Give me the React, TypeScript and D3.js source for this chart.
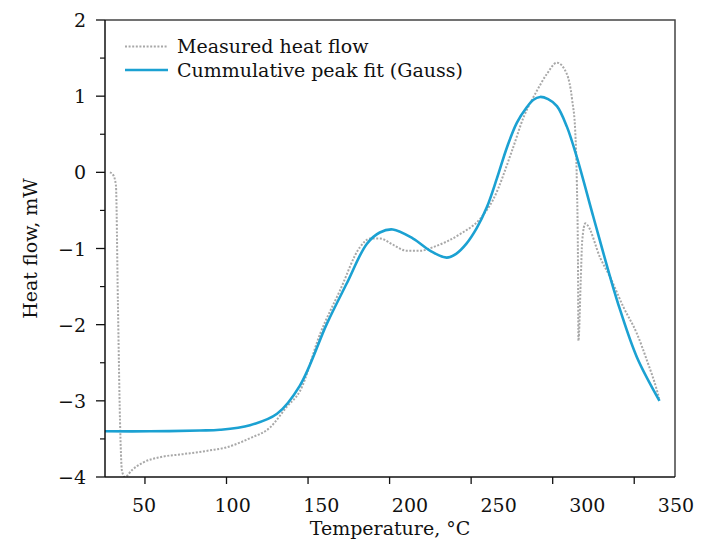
import React, { useEffect } from "react";
import * as d3 from "d3";

// ---- data ----
const xTickValues = [50, 100, 150, 200, 250, 300, 350];
const xTickLabels = ["50", "100", "150", "200", "250", "300", "350"];
const yTickValues = [-4, -3, -2, -1, 0, 1, 2];
const yMinorTicks = [-3.5, -2.5, -1.5, -0.5, 0.5, 1.5];

const measuredT = [28.5, 30.4, 32.2, 33.4, 34.7, 35.9, 37.7, 42, 48.8, 59.2, 73.3, 89.9, 100.1, 114.4, 126.7, 136.9, 145.1, 157.4, 169.6, 181.9, 188, 194.2, 202, 210.6, 218.7, 226.9, 243.3, 255.5, 263.7, 275, 282.1, 290.3, 296.4, 302.6, 308.7, 312, 313.8, 314.8, 315.5, 315.8, 317.2, 318.1, 320, 321.2, 329.1, 335.3, 343.4, 351.7, 357.8, 363.9, 365.3];
const measuredV = [0.0, -0.03, -0.17, -1.69, -3.26, -3.92, -4.0, -3.91, -3.81, -3.74, -3.70, -3.65, -3.61, -3.49, -3.35, -3.08, -2.87, -2.12, -1.55, -0.98, -0.87, -0.87, -0.95, -1.03, -1.03, -0.98, -0.81, -0.61, -0.35, 0.28, 0.72, 1.07, 1.29, 1.44, 1.29, 0.94, 0.55, -0.11, -1.16, -2.21, -1.42, -0.90, -0.67, -0.69, -1.12, -1.38, -1.77, -2.12, -2.47, -2.86, -2.97];

const fitT = [25.5, 53, 83.7, 96, 114.4, 131, 145, 161.5, 173.7, 186, 194, 202, 214.4, 225, 235, 240.8, 247, 253.5, 259.6, 265.8, 272, 278, 284, 288, 292.3, 297.2, 302.6, 308.7, 314.8, 325, 335.3, 341.4, 351.7, 365.5];
const fitV = [-3.40, -3.40, -3.39, -3.38, -3.32, -3.17, -2.80, -1.99, -1.46, -0.94, -0.79, -0.75, -0.87, -1.03, -1.12, -1.07, -0.94, -0.73, -0.46, -0.08, 0.33, 0.65, 0.85, 0.95, 0.99, 0.96, 0.87, 0.60, 0.20, -0.59, -1.38, -1.81, -2.43, -3.00];

const seriesNames = ["Measured heat flow", "Cummulative peak fit (Gauss)"];

const W = 710;
const H = 546;
const left = 105, right = 675, top = 20, bottom = 477;

const FONT = "'DejaVu Serif', 'Liberation Serif', serif";
const BLUE = "#1ba1d2";
const GRAY = "#a8a8a8";

export default function App() {
  useEffect(() => {
    document.body.style.margin = "0";
  }, []);

  const x = d3.scaleLinear().domain([25.5, 375]).range([left, right]);
  const y = d3.scaleLinear().domain([-4, 2]).range([bottom, top]);
  const xLabelPos = d3.scalePoint<string>().domain(xTickLabels).range([144, 676]);

  const measured = measuredT.map((t, i) => [t, measuredV[i]] as [number, number]);
  const fit = fitT.map((t, i) => [t, fitV[i]] as [number, number]);

  const lineM = d3.line<[number, number]>().x(d => x(d[0])).y(d => y(d[1])).curve(d3.curveMonotoneX);
  const lineF = d3.line<[number, number]>().x(d => x(d[0])).y(d => y(d[1])).curve(d3.curveCatmullRom.alpha(0.5));

  const fmt = (v: number) => (v < 0 ? "\u2212" + Math.abs(v) : String(v));

  return (
    <svg width={W} height={H} style={{ display: "block", position: "absolute", left: 0, top: 0, background: "#fff" }} fontFamily={FONT}>
      <defs>
        <clipPath id="plotclip">
          <rect x={left} y={top} width={right - left} height={bottom - top} />
        </clipPath>
      </defs>
      <rect x={0} y={0} width={W} height={H} fill="#fff" />

      {/* frame top/right */}
      <path d={`M${left},${top}H${right}V${bottom}`} fill="none" stroke="#444" strokeWidth={1.5} />

      {/* curves */}
      <g clipPath="url(#plotclip)">
        <path d={lineM(measured) || ""} fill="none" stroke={GRAY} strokeWidth={2} strokeDasharray="2,1.6" />
        <path d={lineF(fit) || ""} fill="none" stroke={BLUE} strokeWidth={2.6} />
      </g>

      {/* axes */}
      <line x1={left} x2={left} y1={top} y2={bottom} stroke="#111" strokeWidth={1.5} />
      <line x1={left} x2={right} y1={bottom} y2={bottom} stroke="#111" strokeWidth={1.5} />

      {yTickValues.map(v => (
        <g key={"y" + v}>
          <line x1={left - 9} x2={left} y1={y(v)} y2={y(v)} stroke="#111" strokeWidth={1.3} />
          <text x={86} y={y(v) + 7} textAnchor="end" fontSize={19} fill="#111">{fmt(v)}</text>
        </g>
      ))}
      {yMinorTicks.map(v => (
        <line key={"ym" + v} x1={left - 5} x2={left} y1={y(v)} y2={y(v)} stroke="#111" strokeWidth={1.2} />
      ))}

      {xTickValues.map((v, i) => (
        <g key={"x" + v}>
          <line x1={x(v)} x2={x(v)} y1={bottom} y2={bottom + 7} stroke="#111" strokeWidth={1.3} />
          <text x={xLabelPos(xTickLabels[i])} y={512} textAnchor="middle" fontSize={19} fill="#111">{xTickLabels[i]}</text>
        </g>
      ))}

      <text x={(left + right) / 2} y={535} textAnchor="middle" fontSize={19} fill="#111">Temperature, °C</text>
      <text transform={`translate(37,${(top + bottom) / 2}) rotate(-90)`} textAnchor="middle" fontSize={19} fill="#111">Heat flow, mW</text>

      {/* legend */}
      <line x1={125} x2={168} y1={46.5} y2={46.5} stroke={GRAY} strokeWidth={2} strokeDasharray="2,1.6" />
      <text x={177} y={53} fontSize={19} fill="#111">{seriesNames[0]}</text>
      <line x1={125} x2={168} y1={70} y2={70} stroke={BLUE} strokeWidth={2.6} />
      <text x={177} y={77} fontSize={19} fill="#111">{seriesNames[1]}</text>
    </svg>
  );
}
